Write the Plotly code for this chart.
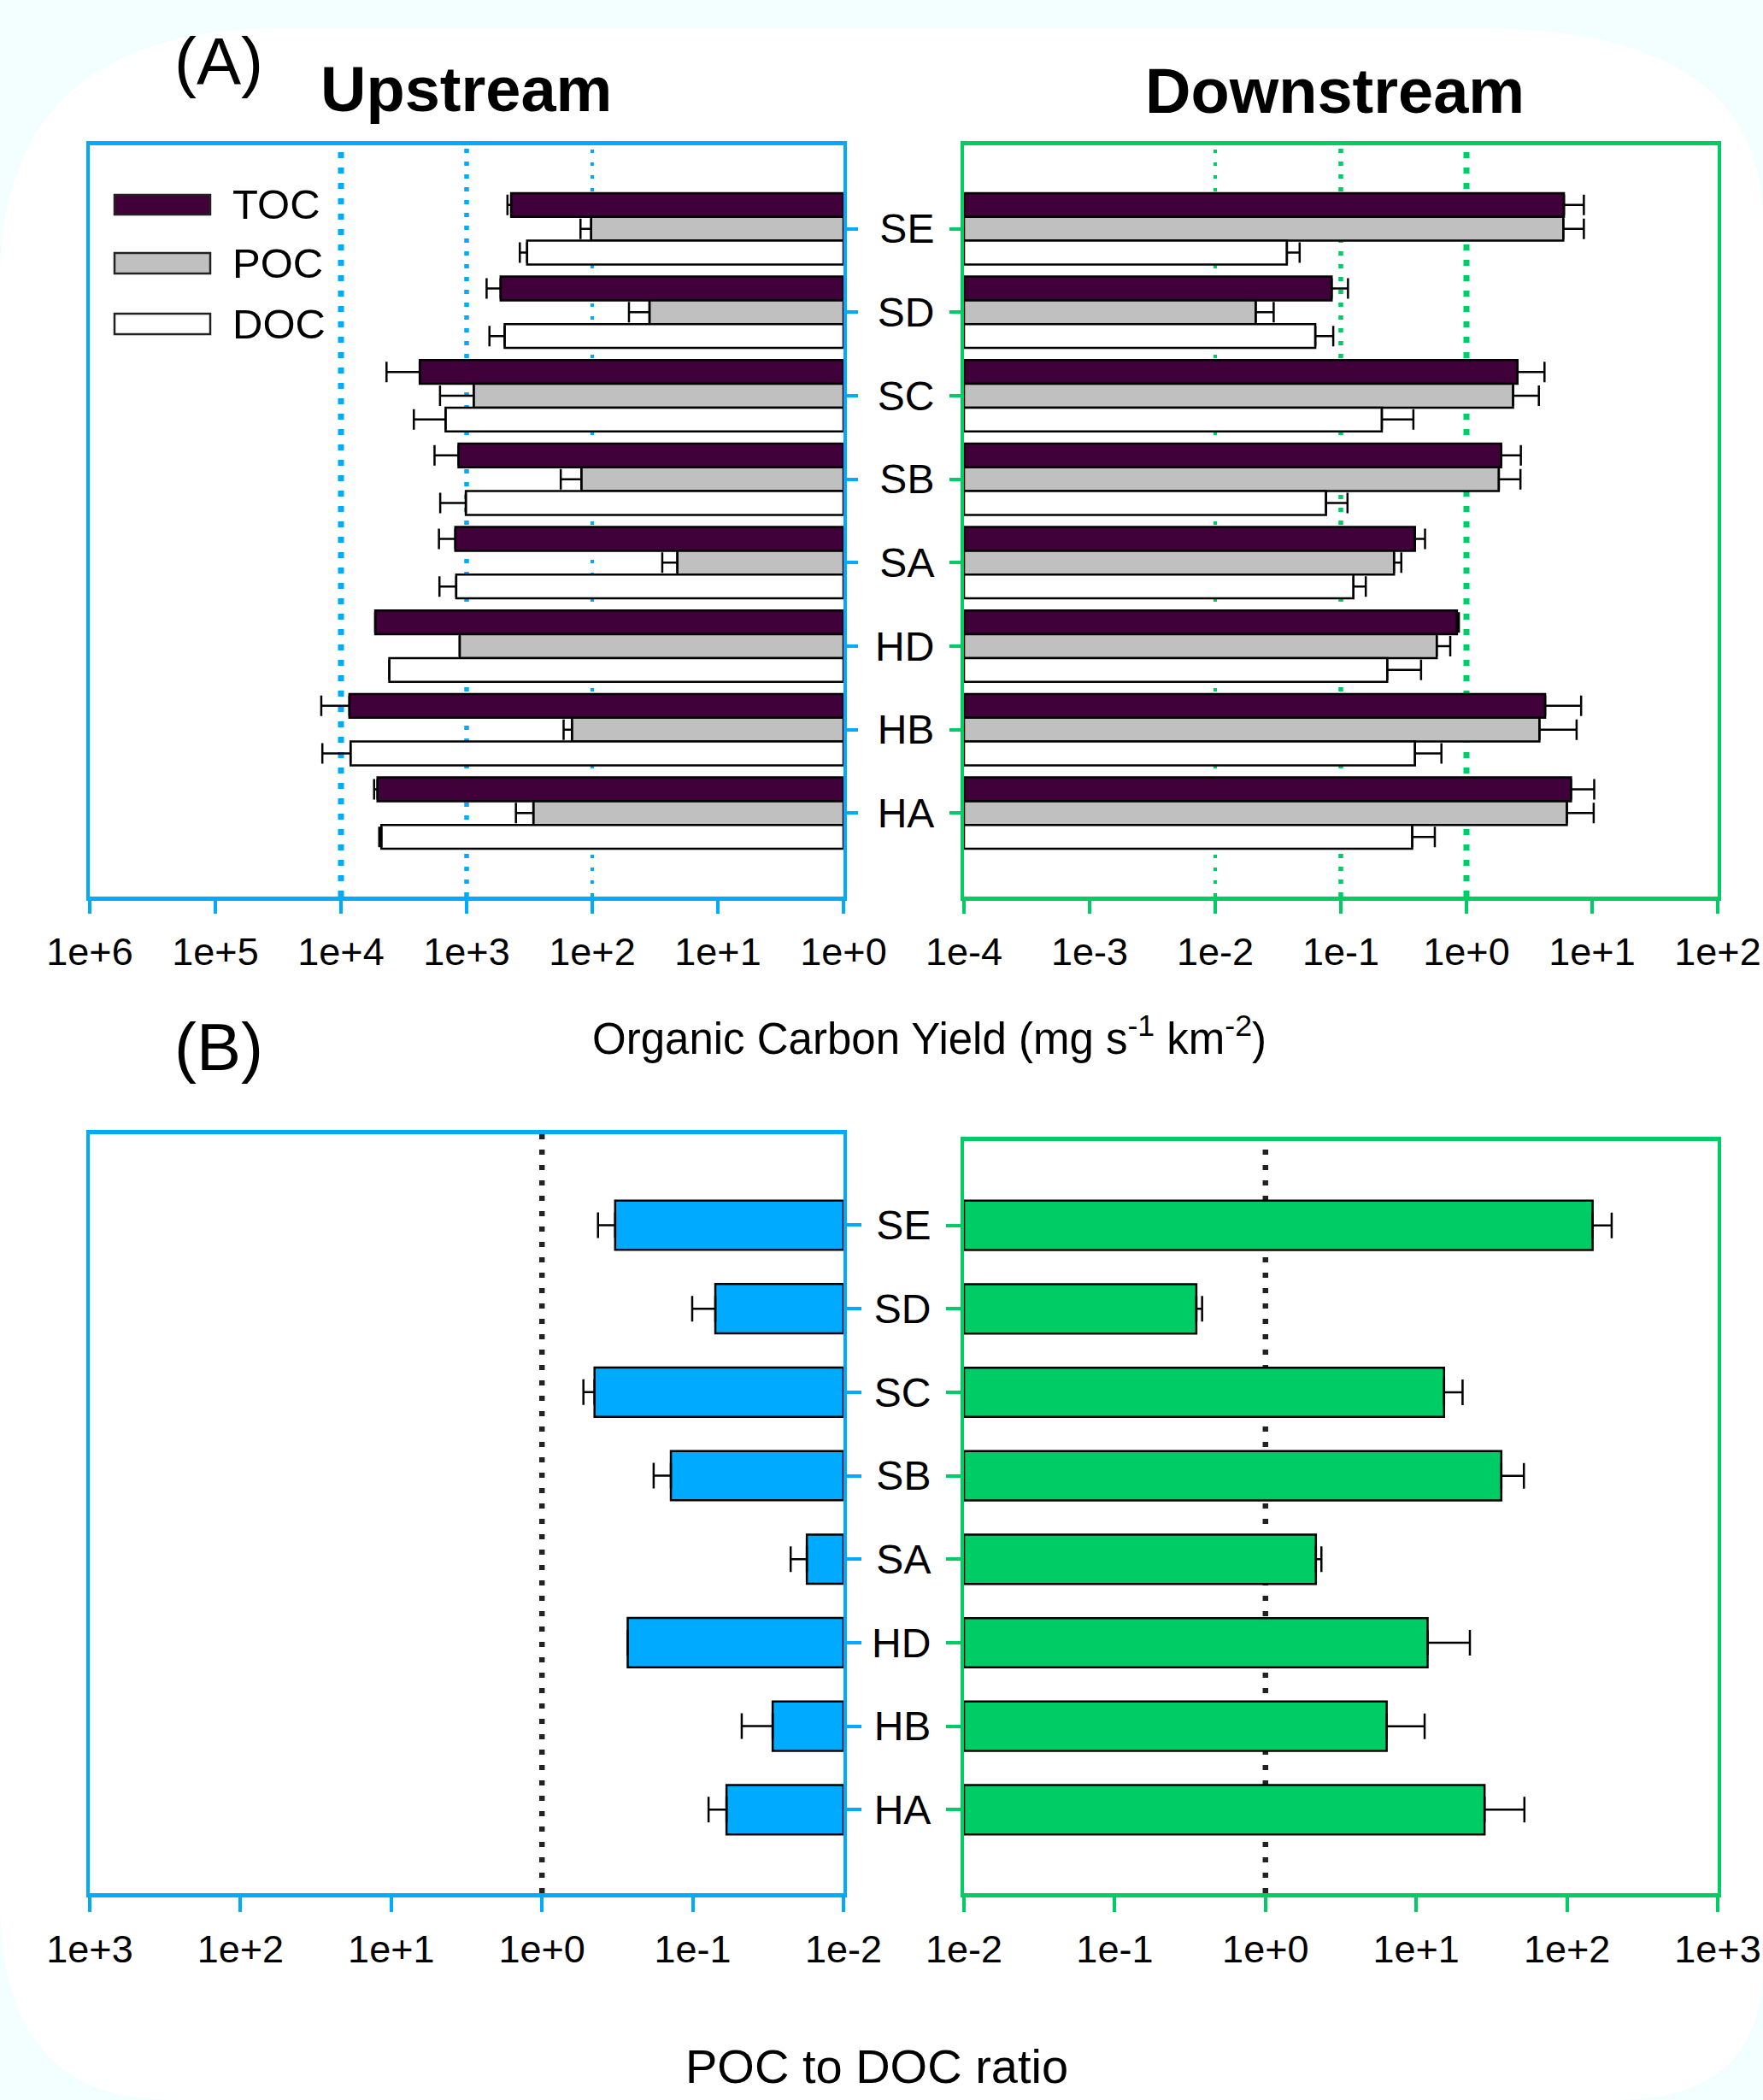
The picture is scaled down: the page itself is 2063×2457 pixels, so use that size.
import plotly.graph_objects as go

W, H = 2063, 2457

# ---------------- data ----------------
cats = ['SE', 'SD', 'SC', 'SB', 'SA', 'HD', 'HB', 'HA']

# Upstream organic carbon yield (mg s-1 km-2)
up_toc = [442, 536, 2360, 1160, 1230, 5340, 8570, 5120]
up_toc_err = [31, 157, 1980, 640, 430, None, 5780, 330]
up_poc = [102, 35, 878, 122, 21, 1135, 145, 294]
up_poc_err = [22, 16, 750, 56, 6.7, None, 24, 111]
up_doc = [330, 498, 1470, 1014, 1210, 4125, 8390, 4770]
up_doc_err = [47, 160, 1160, 608, 435, None, 5680, 190]

# Downstream organic carbon yield (mg s-1 km-2)
dn_toc = [5.97, 0.0845, 2.55, 1.89, 0.389, 0.84, 4.23, 6.8]
dn_toc_err = [2.63, 0.0295, 1.63, 0.82, 0.079, 0.03, 3.95, 3.6]
dn_poc = [5.9, 0.021, 2.35, 1.81, 0.265, 0.58, 3.81, 6.3]
dn_poc_err = [2.7, 0.0082, 1.42, 0.88, 0.038, 0.163, 3.72, 4.0]
dn_doc = [0.0372, 0.0626, 0.212, 0.0762, 0.126, 0.234, 0.389, 0.37]
dn_doc_err = [0.0098, 0.0244, 0.166, 0.0368, 0.032, 0.201, 0.243, 0.19]

# POC to DOC ratio
up_ratio = [0.327, 0.0708, 0.448, 0.1396, 0.0175, 0.27, 0.0295, 0.0597]
up_ratio_err = [0.098, 0.030, 0.083, 0.042, 0.0049, None, 0.0178, 0.0188]
dn_ratio = [148, 0.348, 15.3, 36.7, 2.16, 11.9, 6.37, 28.4]
dn_ratio_err = [50, 0.032, 5.0, 15.1, 0.19, 10.8, 5.0, 23.8]

ticks_a_up = [1e6, 1e5, 1e4, 1e3, 1e2, 1e1, 1e0]
ticks_a_up_txt = ['1e+6', '1e+5', '1e+4', '1e+3', '1e+2', '1e+1', '1e+0']
ticks_a_dn = [1e-4, 1e-3, 1e-2, 1e-1, 1e0, 1e1, 1e2]
ticks_a_dn_txt = ['1e-4', '1e-3', '1e-2', '1e-1', '1e+0', '1e+1', '1e+2']
ticks_b_up = [1e3, 1e2, 1e1, 1e0, 1e-1, 1e-2]
ticks_b_up_txt = ['1e+3', '1e+2', '1e+1', '1e+0', '1e-1', '1e-2']
ticks_b_dn = [1e-2, 1e-1, 1e0, 1e1, 1e2, 1e3]
ticks_b_dn_txt = ['1e-2', '1e-1', '1e+0', '1e+1', '1e+2', '1e+3']

# ---------------- style ----------------
BLUE = '#00AAFF'
GREEN = '#00CC66'
TOC_C = '#40003A'
POC_C = '#C0C0C0'
DOC_C = '#FFFFFF'
BG = '#F3FEFE'
FONT = 'Liberation Sans, Arial, sans-serif'


def px(x):
    return x / W


def py(y):
    return 1 - y / H


fig = go.Figure()

BW_A = 0.285
offs_a = [-1.5 * BW_A, -0.5 * BW_A, 0.5 * BW_A]


def add_bar(vals, errs, base, color, xa, ya, width, offset, cap):
    fig.add_trace(go.Bar(
        y=cats, x=[v - base for v in vals], base=base, orientation='h',
        width=width, offset=offset,
        marker=dict(color=color, line=dict(color='black', width=2.5)),
        error_x=dict(type='data', symmetric=False, array=errs,
                     arrayminus=[0] * len(vals), color='black',
                     thickness=2.5, width=cap),
        xaxis=xa, yaxis=ya, showlegend=False, hoverinfo='skip'))


# Panel A upstream
for vals, errs, col, off in [(up_toc, up_toc_err, TOC_C, offs_a[0]),
                             (up_poc, up_poc_err, POC_C, offs_a[1]),
                             (up_doc, up_doc_err, DOC_C, offs_a[2])]:
    add_bar(vals, errs, 1.0, col, 'x', 'y', BW_A, off, 12)
# Panel A downstream
for vals, errs, col, off in [(dn_toc, dn_toc_err, TOC_C, offs_a[0]),
                             (dn_poc, dn_poc_err, POC_C, offs_a[1]),
                             (dn_doc, dn_doc_err, DOC_C, offs_a[2])]:
    add_bar(vals, errs, 1e-4, col, 'x2', 'y2', BW_A, off, 12)
# Panel B
BW_B = 0.59
add_bar(up_ratio, up_ratio_err, 1e-2, BLUE, 'x3', 'y3', BW_B, -BW_B / 2, 15)
add_bar(dn_ratio, dn_ratio_err, 1e-2, GREEN, 'x4', 'y4', BW_B, -BW_B / 2, 15)


def xax(rng, dom, anchor, col, tv, tt, tl, so):
    return dict(type='log', range=rng, domain=dom, anchor=anchor,
                tickvals=tv, ticktext=tt, ticks='outside', ticklen=tl,
                tickwidth=4, tickcolor=col, showline=True, linecolor=col,
                linewidth=5, mirror=True, showgrid=False, zeroline=False,
                automargin=False,
                tickfont=dict(size=45, color='black', family=FONT),
                ticklabelstandoff=so)


def yax(rng, dom, anchor, col, side, labels, tl, so):
    return dict(type='category', categoryorder='array', categoryarray=cats,
                range=rng, domain=dom, anchor=anchor, side=side,
                ticks='outside', ticklen=tl, tickwidth=4, tickcolor=col,
                showticklabels=labels, showline=True, linecolor=col,
                linewidth=4, mirror=True, showgrid=False, zeroline=False,
                automargin=False,
                tickfont=dict(size=48, color='black', family=FONT),
                ticklabelstandoff=so)


dom_l = [px(105), px(987)]
dom_r = [px(1128), px(2010)]

fig.update_layout(
    xaxis=xax([6, 0], dom_l, 'y', BLUE, ticks_a_up, ticks_a_up_txt, 15, 6),
    yaxis=yax([8, -1], [py(1049), py(170)], 'x', BLUE, 'right', False, 13, 8),
    xaxis2=xax([-4, 2], dom_r, 'y2', GREEN, ticks_a_dn, ticks_a_dn_txt, 15, 6),
    yaxis2=yax([8, -1], [py(1049), py(170)], 'x2', GREEN, 'left', True, 13, 8),
    xaxis3=xax([3, -2], dom_l, 'y3', BLUE, ticks_b_up, ticks_b_up_txt, 17, 5),
    yaxis3=yax([8, -1.09], [py(2215), py(1327)], 'x3', BLUE, 'right', False, 17, 8),
    xaxis4=xax([-2, 3], dom_r, 'y4', GREEN, ticks_b_dn, ticks_b_dn_txt, 17, 5),
    yaxis4=yax([8, -1.01], [py(2215), py(1335)], 'x4', GREEN, 'left', True, 17, 8),
    barmode='overlay',
    width=W, height=H,
    margin=dict(l=0, r=0, t=0, b=0, autoexpand=False),
    paper_bgcolor=BG, plot_bgcolor='white',
    font=dict(family=FONT, color='black'),
)

shapes = []


def P(x, y):
    return f"{px(x):.5f},{py(y):.5f}"


bgpath = (f"M{P(0, 330)} Q{P(0, 33)} {P(330, 33)} L{P(1730, 33)} "
          f"Q{P(2063, 33)} {P(2063, 260)} L{P(2063, 2300)} "
          f"Q{P(2063, 2457)} {P(1890, 2457)} L{P(200, 2457)} "
          f"Q{P(0, 2457)} {P(0, 2224)} Z")
shapes.append(dict(type='path', path=bgpath, xref='paper', yref='paper',
                   fillcolor='white', line=dict(width=0), layer='below'))

# reference dotted lines
for xr, yr, xv, col, w, dash in [
        ('x', 'y', 1e4, BLUE, 7, '7px,11px'),
        ('x', 'y', 1e3, BLUE, 5.5, '5px,10px'),
        ('x', 'y', 1e2, BLUE, 4, '4px,11px'),
        ('x2', 'y2', 1e0, GREEN, 7, '7px,11px'),
        ('x2', 'y2', 1e-1, GREEN, 5.5, '5px,10px'),
        ('x2', 'y2', 1e-2, GREEN, 4, '4px,11px'),
        ('x3', 'y3', 1e0, '#222222', 6.5, '6px,12px'),
        ('x4', 'y4', 1e0, '#222222', 6.5, '6px,12px')]:
    shapes.append(dict(type='line', xref=xr, yref=yr + ' domain',
                       x0=xv, x1=xv, y0=0, y1=1,
                       line=dict(color=col, width=w, dash=dash),
                       layer='below'))

# legend
legend_items = [('TOC', TOC_C, 228, 251, 239),
                ('POC', POC_C, 296, 320, 308),
                ('DOC', DOC_C, 367, 391, 379)]
annotations = []
for name, col, y0, y1, yc in legend_items:
    shapes.append(dict(type='rect', xref='paper', yref='paper',
                       x0=px(134), x1=px(246), y0=py(y1), y1=py(y0),
                       fillcolor=col, line=dict(color='#222222', width=2.5)))
    annotations.append(dict(text=name, xref='paper', yref='paper',
                            x=px(270), y=py(yc), xanchor='left',
                            yanchor='middle', showarrow=False,
                            font=dict(size=49, color='black', family=FONT)))

texts = [
    ('(A)', 256, 72, 78, False),
    ('(B)', 256, 1225, 78, False),
    ('Upstream', 545, 104, 74, True),
    ('Downstream', 1562, 106, 74, True),
    ('Organic Carbon Yield (mg s<sup>-1</sup> km<sup>-2</sup>)', 1087, 1212, 51, False),
    ('POC to DOC ratio', 1026, 2417, 56, False),
]
for t, x, y, s, b in texts:
    annotations.append(dict(text=f'<b>{t}</b>' if b else t,
                            xref='paper', yref='paper', x=px(x), y=py(y),
                            xanchor='center', yanchor='middle',
                            showarrow=False,
                            font=dict(size=s, color='black', family=FONT)))

fig.update_layout(shapes=shapes, annotations=annotations)

fig.write_html('out.html',
               config={'displayModeBar': False},
               post_script="document.body.style.margin='0';"
                           "document.body.style.overflow='hidden';")
